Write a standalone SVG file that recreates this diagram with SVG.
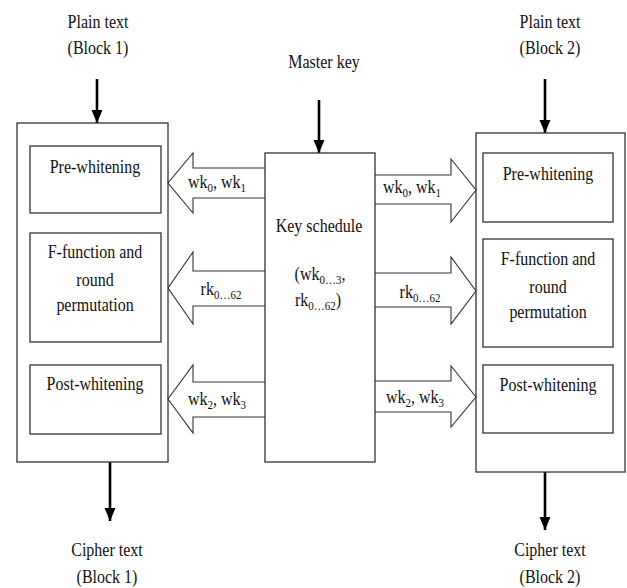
<svg xmlns="http://www.w3.org/2000/svg" width="627" height="588" viewBox="0 0 627 588">
<style>
.t{font-family:"Liberation Serif","Times New Roman",serif;font-size:16px;fill:#111;text-anchor:middle}
.s{font-size:11px}
.box{fill:none;stroke:#333;stroke-width:1.3}
.ha{fill:#fff;stroke:#333;stroke-width:1.1}
.da{stroke:#000;stroke-width:2.6;fill:none;marker-end:url(#ah)}
</style>
<defs>
<marker id="ah" markerUnits="userSpaceOnUse" markerWidth="14" markerHeight="12" refX="13" refY="5.5" orient="auto">
<path d="M0,0 L13,5.5 L0,11 z" fill="#000"/>
</marker>
</defs>
<rect width="627" height="588" fill="#fff"/>

<g id="connectors">
<path class="da" d="M97,79 V123"/>
<path class="da" d="M319,100 V153"/>
<path class="da" d="M545,79 V133"/>
<path class="da" d="M110,462 V521"/>
<path class="da" d="M545,472 V530"/>
<path class="ha" d="M265,168 H193 V153 L168,183 L193,213 V198 H265"/>
<path class="ha" d="M265,271 H193 V252 L168,288 L193,324 V306 H265"/>
<path class="ha" d="M265,382 H193 V365 L168,399 L193,433 V417 H265"/>
<path class="ha" d="M375,175 H451 V159 L476,190 L451,222 V204 H375"/>
<path class="ha" d="M375,273 H451 V257 L476,291 L451,324 V307 H375"/>
<path class="ha" d="M375,381 H451 V366 L476,397 L451,427 V412 H375"/>
<text class="t" transform="translate(217,188) scale(1,1.2)">wk<tspan class="s" dy="3">0</tspan><tspan dy="-3">, wk</tspan><tspan class="s" dy="3">1</tspan></text>
<text class="t" transform="translate(221,295) scale(1,1.2)">rk<tspan class="s" dy="3">0…62</tspan></text>
<text class="t" transform="translate(217,405) scale(1,1.2)">wk<tspan class="s" dy="3">2</tspan><tspan dy="-3">, wk</tspan><tspan class="s" dy="3">3</tspan></text>
<text class="t" transform="translate(412,193) scale(1,1.2)">wk<tspan class="s" dy="3">0</tspan><tspan dy="-3">, wk</tspan><tspan class="s" dy="3">1</tspan></text>
<text class="t" transform="translate(420,298) scale(1,1.2)">rk<tspan class="s" dy="3">0…62</tspan></text>
<text class="t" transform="translate(415,403) scale(1,1.2)">wk<tspan class="s" dy="3">2</tspan><tspan dy="-3">, wk</tspan><tspan class="s" dy="3">3</tspan></text>
</g>

<g id="input1">
<text class="t" transform="translate(98,28) scale(1,1.2)">Plain text</text>
<text class="t" transform="translate(98,54) scale(1,1.2)">(Block 1)</text>
</g>
<g id="input2">
<text class="t" transform="translate(550,28) scale(1,1.2)">Plain text</text>
<text class="t" transform="translate(550,54) scale(1,1.2)">(Block 2)</text>
</g>
<g id="masterkey">
<text class="t" transform="translate(324,68) scale(1,1.2)">Master key</text>
</g>

<g id="block1">
<rect class="box" x="17" y="123" width="151" height="339"/>
</g>
<g id="pre1">
<rect class="box" x="30" y="146" width="131" height="67"/>
<text class="t" transform="translate(95,173) scale(1,1.2)">Pre-whitening</text>
</g>
<g id="f1">
<rect class="box" x="30" y="233" width="131" height="109"/>
<text class="t" transform="translate(95,258) scale(1,1.2)">F-function and</text>
<text class="t" transform="translate(95,286) scale(1,1.2)">round</text>
<text class="t" transform="translate(95,311) scale(1,1.2)">permutation</text>
</g>
<g id="post1">
<rect class="box" x="30" y="365" width="131" height="69"/>
<text class="t" transform="translate(95,390) scale(1,1.2)">Post-whitening</text>
</g>

<g id="keyschedule">
<rect class="box" x="265" y="153" width="110" height="309"/>
<text class="t" transform="translate(319,232) scale(1,1.2)">Key schedule</text>
<text class="t" transform="translate(320,280) scale(1,1.2)">(wk<tspan class="s" dy="3">0…3</tspan><tspan dy="-3">,</tspan></text>
<text class="t" transform="translate(318,306) scale(1,1.2)">rk<tspan class="s" dy="3">0…62</tspan><tspan dy="-3">)</tspan></text>
</g>

<g id="block2">
<rect class="box" x="476" y="133" width="149" height="339"/>
</g>
<g id="pre2">
<rect class="box" x="483" y="153" width="130" height="69"/>
<text class="t" transform="translate(548,180) scale(1,1.2)">Pre-whitening</text>
</g>
<g id="f2">
<rect class="box" x="483" y="239" width="130" height="108"/>
<text class="t" transform="translate(548,265) scale(1,1.2)">F-function and</text>
<text class="t" transform="translate(548,293) scale(1,1.2)">round</text>
<text class="t" transform="translate(548,318) scale(1,1.2)">permutation</text>
</g>
<g id="post2">
<rect class="box" x="483" y="365" width="130" height="68"/>
<text class="t" transform="translate(548,391) scale(1,1.2)">Post-whitening</text>
</g>

<g id="output1">
<text class="t" transform="translate(107,556) scale(1,1.2)">Cipher text</text>
<text class="t" transform="translate(107,583) scale(1,1.2)">(Block 1)</text>
</g>
<g id="output2">
<text class="t" transform="translate(550,556) scale(1,1.2)">Cipher text</text>
<text class="t" transform="translate(550,583) scale(1,1.2)">(Block 2)</text>
</g>
</svg>
